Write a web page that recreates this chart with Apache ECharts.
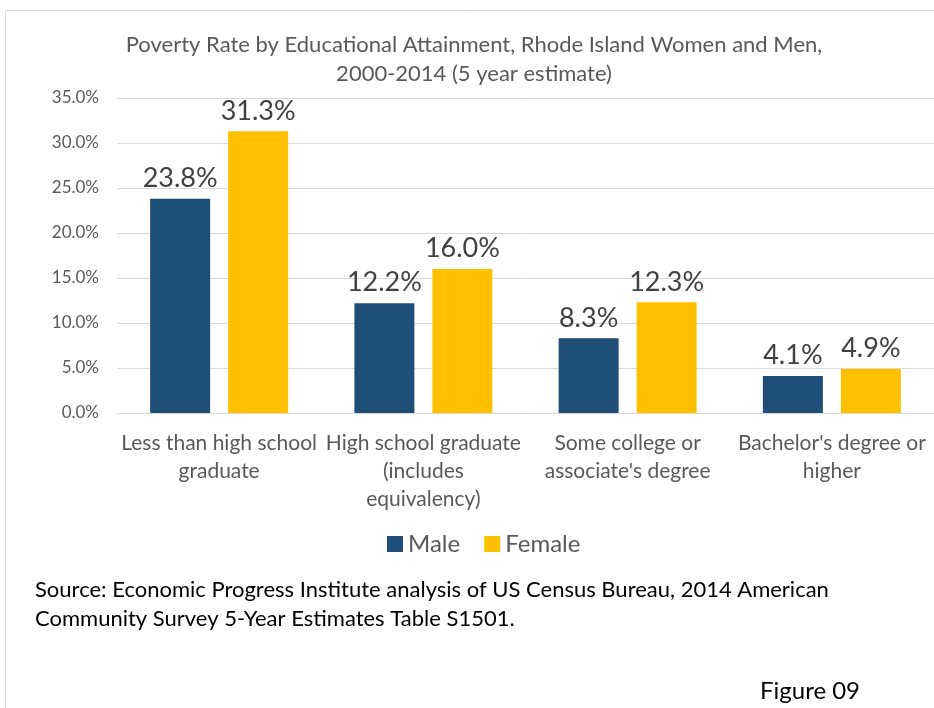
<!DOCTYPE html>
<html><head><meta charset="utf-8">
<script src="https://cdn.jsdelivr.net/npm/echarts@6/dist/echarts.min.js"></script>
<style>html,body{margin:0;padding:0;background:#fff}#c{width:934px;height:708px}</style>
</head><body><div id="c"></div>
<script>
const categories = ["Less than high school\ngraduate", "High school graduate\n(includes\nequivalency)", "Some college or\nassociate's degree", "Bachelor's degree or\nhigher"];
const male = [23.8, 12.2, 8.3, 4.1];
const female = [31.3, 16.0, 12.3, 4.9];
const yTicks = [0, 5, 10, 15, 20, 25, 30, 35];
const FONT = 'Lato';
const chart = echarts.init(document.getElementById('c'));
chart.setOption({
  animation: false,
  backgroundColor: '#fff',
  textStyle: {fontFamily: FONT},
  title: {
    text: 'Poverty Rate by Educational Attainment, Rhode Island Women and Men,\n2000-2014 (5 year estimate)',
    left: 469, top: 25, textAlign: 'center',
    textStyle: {fontFamily: FONT, fontSize: 22, fontWeight: 'normal', color: '#595959', lineHeight: 29}
  },
  graphic: [
    {type: 'rect', shape: {x: 5.5, y: 10.5, width: 1000, height: 1000}, style: {fill: 'none', stroke: '#d9d9d9', lineWidth: 1}, z: -1},
    {type: 'text', left: 35, top: 575, style: {text: 'Source: Economic Progress Institute analysis of US Census Bureau, 2014 American\nCommunity Survey 5-Year Estimates Table S1501.', fontFamily: FONT, fontSize: 22, lineHeight: 29, fill: '#000'}},
    {type: 'text', left: 760, top: 679, style: {text: 'Figure 09', fontFamily: FONT, fontSize: 24, fill: '#000'}}
  ],
  legend: {
    data: ['Male', 'Female'], top: 527, left: 382,
    itemWidth: 16, itemHeight: 16, itemGap: 24, icon: 'rect',
    textStyle: {fontFamily: FONT, fontSize: 24, color: '#595959'}
  },
  grid: {left: 117, right: -7, top: 98, bottom: 295, containLabel: false},
  xAxis: {
    type: 'category', data: categories,
    axisLine: {lineStyle: {color: '#d9d9d9', width: 1}},
    axisTick: {show: false},
    axisLabel: {interval: 0, fontFamily: FONT, fontSize: 21, color: '#595959', lineHeight: 28, margin: 16}
  },
  yAxis: {
    type: 'value', min: 0, max: 35, interval: 5,
    axisLine: {show: false}, axisTick: {show: false},
    splitLine: {lineStyle: {color: '#d9d9d9', width: 1}},
    axisLabel: {fontFamily: FONT, fontSize: 17, color: '#595959', margin: 18, formatter: v => v.toFixed(1) + '%'}
  },
  series: [
    {name: 'Male', type: 'bar', data: male, barWidth: 60, barGap: '30%',
     itemStyle: {color: '#1F4E79'},
     label: {show: true, position: 'top', distance: 7, fontFamily: FONT, fontSize: 27, color: '#404040', formatter: p => p.value.toFixed(1) + '%'}},
    {name: 'Female', type: 'bar', data: female, barWidth: 60,
     itemStyle: {color: '#FFC000'},
     label: {show: true, position: 'top', distance: 7, fontFamily: FONT, fontSize: 27, color: '#404040', formatter: p => p.value.toFixed(1) + '%'}}
  ]
});
</script></body></html>
